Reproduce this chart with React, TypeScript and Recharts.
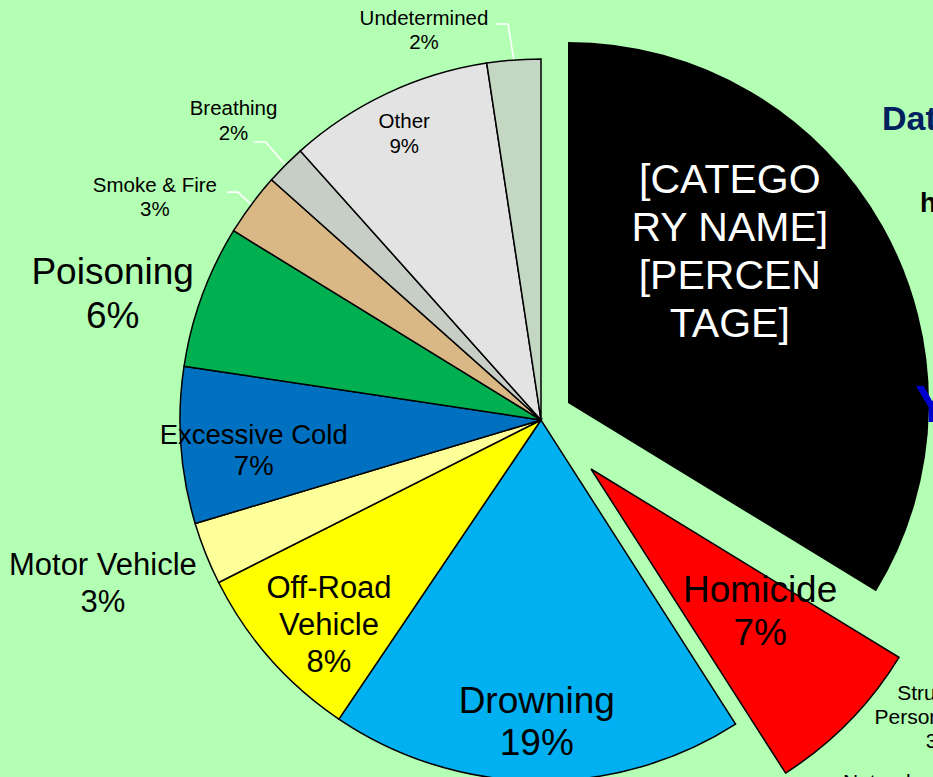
import React from "react";
import { PieChart, Pie, Cell } from "recharts";

// slices clockwise from 12 o'clock
const categories = [
  "[CATEGORY NAME]",
  "Homicide",
  "Drowning",
  "Off-Road Vehicle",
  "Motor Vehicle",
  "Excessive Cold",
  "Poisoning",
  "Smoke & Fire",
  "Breathing",
  "Other",
  "Undetermined",
];
const shares = [33.7, 7.2, 18.5, 8.1, 2.8, 7.0, 6.4, 2.8, 1.8, 9.2, 2.4];
const colors = [
  "#000000",
  "#ff0000",
  "#00b0f0",
  "#ffff00",
  "#ffff99",
  "#0070c0",
  "#00b050",
  "#d9b886",
  "#c6cec6",
  "#e3e3e3",
  "#c3d7c3",
];

const data = categories.map((name, i) => ({ name, value: shares[i] }));

const BG = "#b3ffb3";
const FONT = "'Liberation Sans', Arial, sans-serif";
const CX = 541;
const CY = 420;
const R = 361;

// exploded slices: offset of their centre
const EXPLODE: Record<string, [number, number]> = {
  "[CATEGORY NAME]": [27, -17],
  Homicide: [50, 49],
};

type LabelCfg = {
  lines: string[];
  ang: number; // screen degrees, clockwise from 3 o'clock
  r: number; // in radius units
  size: number;
  lh: number;
  color?: string;
  pct?: boolean;
  leader?: [number, number, number]; // start dx, elbow dx, dy (relative to block centre)
};

const LABELS: Record<string, LabelCfg> = {
  "[CATEGORY NAME]": { lines: ["[CATEGO", "RY NAME]", "[PERCEN", "TAGE]"], ang: -43.4, r: 0.617, size: 41, lh: 48, color: "#fff", pct: false },
  Homicide: { lines: ["Homicide"], ang: 39.8, r: 0.61, size: 37, lh: 43 },
  Drowning: { lines: ["Drowning"], ang: 90.8, r: 0.834, size: 37, lh: 42 },
  "Off-Road Vehicle": { lines: ["Off-Road", "Vehicle"], ang: 136.1, r: 0.815, size: 31, lh: 37 },
  "Motor Vehicle": { lines: ["Motor Vehicle"], ang: 159.7, r: 1.294, size: 31, lh: 37 },
  "Excessive Cold": { lines: ["Excessive Cold"], ang: 174.1, r: 0.8, size: 27.5, lh: 31 },
  Poisoning: { lines: ["Poisoning"], ang: 196.6, r: 1.238, size: 37, lh: 44 },
  "Smoke & Fire": { lines: ["Smoke & Fire"], ang: 210, r: 1.235, size: 20.5, lh: 24, leader: [72, 83, -5] },
  Breathing: { lines: ["Breathing"], ang: 224.3, r: 1.19, size: 20.5, lh: 25, leader: [20, 32, 22] },
  Other: { lines: ["Other"], ang: 244.5, r: 0.88, size: 20.5, lh: 25 },
  Undetermined: { lines: ["Undetermined"], ang: 253.3, r: 1.128, size: 20.5, lh: 24, leader: [72, 84, -6] },
};

const RAD = Math.PI / 180;

const makeLabel = (show: (name: string) => boolean) => (p: any) => {
  const { cx, cy, midAngle, outerRadius, percent, name } = p;
  if (!show(name)) return null;
  const cfg = LABELS[name];
  if (!cfg) return null;
  const bx = cx + outerRadius * cfg.r * Math.cos(cfg.ang * RAD);
  const by = cy + outerRadius * cfg.r * Math.sin(cfg.ang * RAD);
  const lines = cfg.pct === false ? cfg.lines : [...cfg.lines, `${Math.round(percent * 100)}%`];
  const y0 = by - ((lines.length - 1) * cfg.lh) / 2 + cfg.size * 0.36;
  let leader = null;
  if (cfg.leader) {
    const [s, e, dy] = cfg.leader;
    const ox = cx + (outerRadius + 1) * Math.cos(-midAngle * RAD);
    const oy = cy + (outerRadius + 1) * Math.sin(-midAngle * RAD);
    leader = (
      <polyline
        points={`${bx + s},${by + dy} ${bx + e},${by + dy} ${ox},${oy}`}
        fill="none"
        stroke="#ffffff"
        strokeWidth={1.6}
      />
    );
  }
  return (
    <g key={`lbl-${name}`}>
      {leader}
      <text
        x={bx}
        y={y0}
        textAnchor="middle"
        fill={cfg.color || "#000"}
        fontSize={cfg.size}
        fontFamily={FONT}
      >
        {lines.map((t, i) => (
          <tspan key={i} x={bx} y={y0 + i * cfg.lh}>
            {t}
          </tspan>
        ))}
      </text>
    </g>
  );
};

const layers = [
  { key: "main", off: [0, 0], show: (n: string) => !EXPLODE[n] },
  ...Object.keys(EXPLODE).map((n) => ({ key: n, off: EXPLODE[n], show: (m: string) => m === n })),
];

export default function App() {
  return (
    <div
      style={{
        position: "fixed",
        left: 0,
        top: 0,
        width: 933,
        height: 777,
        overflow: "hidden",
        background: BG,
      }}
    >
      <PieChart
        width={933}
        height={777}
        margin={{ top: 0, right: 0, bottom: 0, left: 0 }}
        style={{ position: "absolute", left: 0, top: 0 }}
      >
        {layers.map((layer) => (
          <Pie
            key={layer.key}
            data={data}
            dataKey="value"
            nameKey="name"
            cx={CX + layer.off[0]}
            cy={CY + layer.off[1]}
            outerRadius={R}
            startAngle={90}
            endAngle={-270}
            isAnimationActive={false}
            labelLine={false}
            label={makeLabel(layer.show)}
          >
            {data.map((d, i) => {
              const on = layer.show(d.name);
              return (
                <Cell
                  key={`cell-${i}`}
                  fill={on ? colors[i] : "none"}
                  stroke={on && i !== 0 ? "#000" : "none"}
                  strokeWidth={1.5}
                />
              );
            })}
          </Pie>
        ))}
      </PieChart>
      {/* pieces of neighbouring elements cut off by the frame */}
      <svg width={933} height={777} style={{ position: "absolute", left: 0, top: 0, pointerEvents: "none" }}>
        <text x={882} y={130} fontSize={34} fontWeight={900} fill="#002060" fontFamily={FONT}>
          Data
        </text>
        <text x={920} y={212} fontSize={27} fontWeight={700} fill="#000" fontFamily={FONT}>
          h
        </text>
        <text x={915} y={422} fontSize={52} fontWeight={700} fill="#0000cc" fontFamily={FONT}>
          Y
        </text>
        <text textAnchor="middle" fontSize={21} fill="#000" fontFamily={FONT}>
          <tspan x={941} y={700}>Struck by</tspan>
          <tspan x={941} y={724}>Person/Object</tspan>
          <tspan x={941} y={748}>3%</tspan>
        </text>
        <text x={843} y={789} fontSize={21} fill="#000" fontFamily={FONT}>
          Natural
        </text>
      </svg>
    </div>
  );
}
